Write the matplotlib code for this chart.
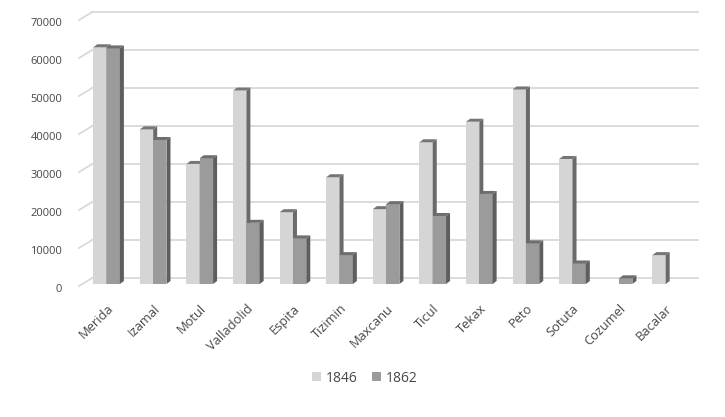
import numpy as np
import matplotlib
matplotlib.use("Agg")
import matplotlib.pyplot as plt
from matplotlib.patches import Polygon, Patch

towns = ["Merida", "Izamal", "Motul", "Valladolid", "Espita", "Tizimin",
         "Maxcanu", "Ticul", "Tekax", "Peto", "Sotuta", "Cozumel", "Bacalar"]
pop_1846 = [62300, 40700, 31600, 50900, 18900, 28100, 19700, 37300, 42700,
            51200, 32900, 0, 7600]
pop_1862 = [62000, 37900, 33100, 16100, 12000, 7600, 21000, 17900, 23700,
            10700, 5400, 1500, 0]
y_ticks = [0, 10000, 20000, 30000, 40000, 50000, 60000, 70000]

plt.rcParams['font.family'] = ['Open Sans', 'DejaVu Sans']
text_col = '#474747'

W, H = 725, 417
fig = plt.figure(figsize=(W / 100, H / 100), dpi=100)
# axes placed in pixels: front plane of the bars
x0px, x1px, y0px, y1px = 83.3, 689.0, 284.0, 18.0
ax = fig.add_axes([x0px / W, (H - y0px) / H, (x1px - x0px) / W, (y0px - y1px) / H])
ax.set_xlim(-0.5, len(towns) - 0.5)
ax.set_ylim(0, 70000)

# pixel -> data units (for the fake 3d offsets)
DX = len(towns) / (x1px - x0px)
DY = 70000 / (y0px - y1px)

# back wall gridlines + little diagonal stubs on the left
for v in y_ticks:
    ax.plot([-0.5 + 9 * DX, len(towns) - 0.5 + 9 * DX], [v + 6 * DY, v + 6 * DY],
            color='#d9d9d9', lw=1.3, zorder=0, clip_on=False)
    ax.plot([-0.5 - 4.3 * DX, -0.5 + 9 * DX], [v - 2 * DY, v + 6 * DY],
            color='#d9d9d9', lw=1.3, zorder=0, clip_on=False)
    ax.text(-0.5 - 21 * DX, v - 5.5 * DY, str(v), ha='right', va='center',
            fontsize=8, color=text_col)

x = np.arange(len(towns))
w = 13.3 / 46.6
dep_x, dep_y = 4 * DX, 3 * DY


def bar3d(xc, v, front, side, top, z):
    if v <= 0:
        return
    xl, xr = xc - w / 2, xc + w / 2
    ax.bar(xc, v, width=w, color=front, zorder=z, linewidth=0)
    ax.add_patch(Polygon([(xr, 0), (xr + dep_x, dep_y), (xr + dep_x, v + dep_y), (xr, v)],
                         closed=True, facecolor=side, edgecolor='none', zorder=z, clip_on=False))
    ax.add_patch(Polygon([(xl, v), (xl + dep_x, v + dep_y), (xr + dep_x, v + dep_y), (xr, v)],
                         closed=True, facecolor=top, edgecolor='none', zorder=z, clip_on=False))


for i in range(len(towns)):
    bar3d(x[i] - w / 2, pop_1846[i], '#d5d5d5', '#6a6a6a', '#767676', 2)
    bar3d(x[i] + w / 2, pop_1862[i], '#9b9b9b', '#5e5e5e', '#6e6e6e', 3)

ax.set_xticks(x)
ax.set_xticklabels(towns, rotation=45, ha='right', rotation_mode='anchor',
                   fontsize=9.3, color=text_col)
ax.tick_params(axis='x', length=0, pad=13)
ax.set_yticks([])
for s in ax.spines.values():
    s.set_visible(False)
ax.patch.set_visible(False)

handles = [Patch(facecolor='#d5d5d5', edgecolor='none'),
           Patch(facecolor='#9b9b9b', edgecolor='none')]
fig.legend(handles, ['1846', '1862'], loc='center', bbox_to_anchor=(0.503, 1 - 378 / H),
           ncol=2, frameon=False, fontsize=10, handlelength=0.65, handleheight=0.65,
           handletextpad=0.35, columnspacing=1.0, labelcolor=text_col)

fig.savefig('out.png', dpi=100)
